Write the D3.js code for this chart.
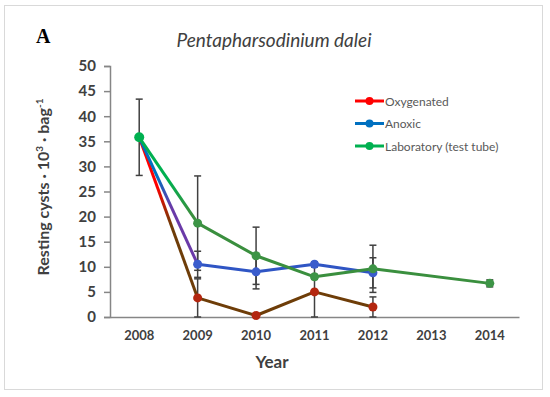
<!DOCTYPE html>
<html>
<head>
<meta charset="utf-8">
<script src="https://cdn.jsdelivr.net/npm/d3@7"></script>
<style>
body { margin: 0; background: #fff; }
</style>
</head>
<body>
<div id="chart"></div>
<script>
var years = ["2008", "2009", "2010", "2011", "2012", "2013", "2014"]
var yTicks = [0, 5, 10, 15, 20, 25, 30, 35, 40, 45, 50]

var oxyYears = ["2008", "2009", "2010", "2011", "2012"]
var oxyValues = [35.8, 3.8, 0.3, 5.0, 2.0]
var oxyErr = [0, 3.8, 0.3, 5.0, 2.0]

var anoxYears = ["2008", "2009", "2010", "2011", "2012"]
var anoxValues = [35.8, 10.5, 9.0, 10.5, 8.8]
var anoxErr = [0, 2.6, 3.4, 0.5, 3.0]

var labYears = ["2008", "2009", "2010", "2011", "2012", "2014"]
var labValues = [35.8, 18.7, 12.2, 8.0, 9.6, 6.7]
var labErr = [7.6, 9.4, 5.7, 0.5, 4.7, 0.7]

var seriesNames = ["Oxygenated", "Anoxic", "Laboratory (test tube)"]
var legendColors = ["#ff0000", "#0070c0", "#00b050"]
var lineColors = ["#6e3d08", "#2f55c4", "#3a8f3e"]
var markerColors = ["#b3260f", "#3a5ccc", "#3d9446"]

var width = 550
var height = 397
var margin = {left: 110, right: 32, top: 66, bottom: 80}

var x = d3.scaleBand().domain(years).range([margin.left, 519])
var y = d3.scaleLinear().domain([0, 50]).range([317, 66])

var svg = d3.select("#chart").append("svg")
    .attr("width", width)
    .attr("height", height)
    .style("font-family", "Lato, 'Open Sans', sans-serif")

svg.append("rect")
    .attr("x", 4.5).attr("y", 5.5)
    .attr("width", 538).attr("height", 384)
    .attr("fill", "#fff")
    .attr("stroke", "#d9d9d9")

svg.append("text")
    .attr("x", 36).attr("y", 43)
    .style("font-family", "'Liberation Serif', 'DejaVu Serif', serif")
    .style("font-weight", "bold")
    .style("font-size", "20px")
    .attr("fill", "#000")
    .text("A")

svg.append("text")
    .attr("x", 274).attr("y", 47)
    .attr("text-anchor", "middle")
    .style("font-style", "italic")
    .style("font-size", "19px")
    .attr("fill", "#404040")
    .text("Pentapharsodinium dalei")

// y axis
var yAxis = svg.append("g")
    .attr("transform", "translate(" + margin.left + ",0)")
    .call(d3.axisLeft(y).tickValues(yTicks).tickSize(6).tickPadding(8))
yAxis.select(".domain").attr("stroke", "#868686").attr("stroke-width", 1.5)
yAxis.selectAll(".tick line").attr("stroke", "#868686").attr("stroke-width", 1.5)
yAxis.selectAll(".tick text")
    .attr("fill", "#404040")
    .style("font-size", "15px")
    .style("font-weight", "bold")
    .style("font-family", "Lato, sans-serif")

// x axis
var xAxis = svg.append("g")
    .attr("transform", "translate(0," + y(0) + ")")
    .call(d3.axisBottom(x).tickSize(0).tickPadding(14).tickSizeOuter(0))
xAxis.select(".domain").attr("stroke", "#868686").attr("stroke-width", 1.5)
xAxis.selectAll(".tick text")
    .attr("fill", "#404040")
    .style("font-size", "13px")
    .style("font-weight", "bold")
    .style("font-family", "Lato, sans-serif")

svg.append("text")
    .attr("x", 272).attr("y", 368)
    .attr("text-anchor", "middle")
    .style("font-size", "17px")
    .style("font-weight", "bold")
    .attr("fill", "#404040")
    .text("Year")

var ylab = svg.append("text")
    .attr("transform", "translate(49,187) rotate(-90)")
    .attr("text-anchor", "middle")
    .style("font-size", "16px")
    .style("font-weight", "bold")
    .attr("fill", "#404040")
ylab.append("tspan").text("Resting cysts · 10")
ylab.append("tspan").attr("dy", -6).style("font-size", "10px").text("3")
ylab.append("tspan").attr("dy", 6).text(" · bag")
ylab.append("tspan").attr("dy", -6).style("font-size", "10px").text("-1")

var series = [
    {years: oxyYears, values: oxyValues, err: oxyErr},
    {years: anoxYears, values: anoxValues, err: anoxErr},
    {years: labYears, values: labValues, err: labErr}
]
series.forEach(function(s, i) {
    s.points = s.years.map(function(yr, j) { return {year: yr, value: s.values[j], err: s.err[j]} })
})

var cx = function(d) { return x(d.year) + x.bandwidth() / 2 }

// gradients for the first segment
var defs = svg.append("defs")
series.forEach(function(s, i) {
    var g = defs.append("linearGradient")
        .attr("id", "grad" + i)
        .attr("gradientUnits", "userSpaceOnUse")
        .attr("x1", 0).attr("x2", 0)
        .attr("y1", y(s.points[0].value)).attr("y2", y(s.points[1].value))
    g.append("stop").attr("offset", i == 2 ? "0.5" : "0.3").attr("stop-color", legendColors[i])
    g.append("stop").attr("offset", i == 2 ? "0.9" : "0.55").attr("stop-color", i == 1 ? "#6a3aa8" : lineColors[i])
})

// error bars
var errG = svg.append("g")
series.forEach(function(s) {
    s.points.forEach(function(d) {
        if (d.err <= 0) return
        var xx = cx(d)
        errG.append("line")
            .attr("x1", xx).attr("x2", xx)
            .attr("y1", y(d.value + d.err)).attr("y2", y(Math.max(0, d.value - d.err)))
            .attr("stroke", "#404040").attr("stroke-width", 1.5)
        ;[d.value + d.err, Math.max(0, d.value - d.err)].forEach(function(v) {
            errG.append("line")
                .attr("x1", xx - 3.5).attr("x2", xx + 3.5)
                .attr("y1", y(v)).attr("y2", y(v))
                .attr("stroke", "#404040").attr("stroke-width", 1.5)
        })
    })
})

// lines
var line = d3.line().x(cx).y(function(d) { return y(d.value) })
series.forEach(function(s, i) {
    svg.append("path")
        .datum(s.points.slice(0, 2))
        .attr("d", line)
        .attr("fill", "none")
        .attr("stroke", "url(#grad" + i + ")")
        .attr("stroke-width", 3)
    svg.append("path")
        .datum(s.points.slice(1))
        .attr("d", line)
        .attr("fill", "none")
        .attr("stroke", lineColors[i])
        .attr("stroke-width", 3)
        .attr("stroke-linejoin", "round")
})

series.forEach(function(s, i) {
    svg.selectAll(null)
        .data(s.points.slice(1))
        .enter().append("circle")
        .attr("cx", cx)
        .attr("cy", function(d) { return y(d.value) })
        .attr("r", 4.5)
        .attr("fill", markerColors[i])
})
svg.append("circle")
    .attr("cx", cx(series[2].points[0]))
    .attr("cy", y(series[2].points[0].value))
    .attr("r", 5)
    .attr("fill", legendColors[2])

// legend
var legend = svg.append("g")
seriesNames.forEach(function(name, i) {
    var ly = 101 + i * 22.5
    legend.append("line")
        .attr("x1", 355).attr("x2", 384)
        .attr("y1", ly).attr("y2", ly)
        .attr("stroke", legendColors[i]).attr("stroke-width", 3)
    legend.append("circle")
        .attr("cx", 369.5).attr("cy", ly).attr("r", 4)
        .attr("fill", legendColors[i])
    legend.append("text")
        .attr("x", 385).attr("y", ly + 4.5)
        .style("font-size", "12px")
        .attr("fill", "#595959")
        .text(name)
})
</script>
</body>
</html>
